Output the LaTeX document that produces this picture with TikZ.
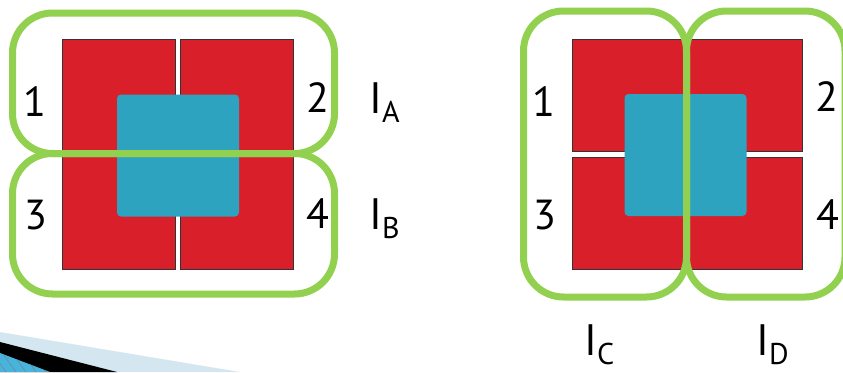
\documentclass[tikz,border=0pt]{standalone}
\usepackage{fontspec}
\setmainfont{PT Sans}
\definecolor{cellred}{RGB}{217,31,41}
\definecolor{coreblue}{RGB}{46,163,191}
\definecolor{groupgreen}{RGB}{146,208,80}
\definecolor{swooshlight}{RGB}{212,230,240}
\definecolor{swooshblue}{RGB}{70,180,220}
\newcommand{\idx}[1]{I\raisebox{-9pt}{\fontsize{30}{30}\selectfont #1}}
\begin{document}
\begin{tikzpicture}[x=1pt, y=-1pt,
  cell/.style={draw=black!80, line width=0.6pt, fill=cellred, inner sep=0pt},
  core/.style={fill=coreblue, rounded corners=4pt, inner sep=0pt, minimum size=122pt},
  group/.style={draw=groupgreen, line width=7pt, rounded corners=40pt},
  num/.style={font=\fontsize{42}{42}\selectfont, inner sep=0pt},
  tag/.style={font=\fontsize{44}{44}\selectfont, inner sep=0pt, anchor=base west}]
  \useasboundingbox (0,0) rectangle (843,372);
  \clip (0,0) rectangle (843,372);
  % slide swoosh, bottom left
  \fill[swooshlight] (0,332) -- (240,372) -- (0,372) -- cycle;
  \fill[black] (0,342) -- (117,372) -- (0,372) -- cycle;
  \begin{scope}
    \clip (0,353) -- (50,372) -- (0,372) -- cycle;
    \fill[swooshblue] (0,350) rectangle (60,372);
    \foreach \x in {-10,0,...,50}
      \draw[black!50, line width=0.5pt] (\x,350) -- (\x+16,372);
  \end{scope}
  % left: two tall cells split by IA / IB
  \node[cell, minimum width=113pt, minimum height=230pt] (l1) at (118.5,154) {};
  \node[cell, minimum width=113pt, minimum height=230pt] (l2) at (236.5,154) {};
  \node[core] (lcore) at (178,155.5) {};
  \draw[group] (12.5,13) rectangle (334.5,153.5);
  \draw[group] (12.5,153.5) rectangle (334.5,294);
  \node[num] (ln1) at (35,102) {1};
  \node[num] (ln2) at (318,98) {2};
  \node[num] (ln3) at (35.5,215) {3};
  \node[num] (ln4) at (318,214) {4};
  \node[tag] (ia) at (369,113) {\idx{A}};
  \node[tag] (ib) at (369,229) {\idx{B}};
  % right: two wide cells split by IC / ID
  \node[cell, minimum width=230pt, minimum height=112pt] (r1) at (687,95) {};
  \node[cell, minimum width=230pt, minimum height=112pt] (r2) at (687,213) {};
  \node[core] (rcore) at (685.5,155) {};
  \draw[group] (523.5,11) rectangle (686.5,297);
  \draw[group] (686.5,11) rectangle (845,297);
  \node[num] (rn1) at (544,102) {1};
  \node[num] (rn2) at (827,97) {2};
  \node[num] (rn3) at (545,215) {3};
  \node[num] (rn4) at (827.5,215) {4};
  \node[tag] (ic) at (584,355) {\idx{C}};
  \node[tag] (id) at (756,355) {\idx{D}};
\end{tikzpicture}
\end{document}
